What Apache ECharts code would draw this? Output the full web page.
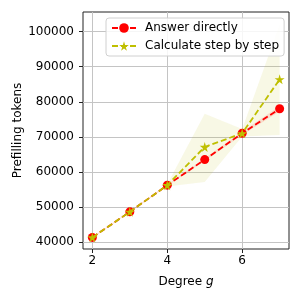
<!DOCTYPE html>
<html><head><meta charset="utf-8">
<script src="https://cdn.jsdelivr.net/npm/echarts@6/dist/echarts.min.js"></script>
<style>html,body{margin:0;padding:0;background:#fff}#c{width:302px;height:302px}</style>
</head><body><div id="c"></div>
<script>
const degrees = [2, 3, 4, 5, 6, 7];
const answerDirect = [41300, 48600, 56200, 63500, 71000, 78000];
const answerLow = [41150, 48450, 56000, 63100, 70500, 77200];
const answerHigh = [41450, 48750, 56400, 63900, 71500, 78800];
const stepByStep = [41300, 48600, 56200, 67100, 71000, 86400];
const stepLow = [41150, 48450, 55800, 57100, 70100, 70500];
const stepHigh = [41450, 48750, 56500, 76600, 72200, 102000];
const xTicks = [2, 4, 6];
const yTicks = [40000, 50000, 60000, 70000, 80000, 90000, 100000];

const STAR = 'path://M50,0 L61,35 L98,35 L68,57 L79,91 L50,70 L21,91 L32,57 L2,35 L39,35 Z';
const pairs = a => degrees.map((d, i) => [d, a[i]]);
const band = (lo, hi) => degrees.map((d, i) => [d, lo[i], hi[i]]);
const font = 'DejaVu Sans';

function bandRenderer(color) {
  return function (params, api) {
    if (params.dataIndex !== 0) return null;
    const top = [], bottom = [];
    for (let i = 0; i < degrees.length; i++) {
      top.push(api.coord([api.value(0, i), api.value(2, i)]));
      bottom.push(api.coord([api.value(0, i), api.value(1, i)]));
    }
    return {
      type: 'polygon',
      shape: { points: top.concat(bottom.reverse()) },
      style: { fill: color, stroke: null },
      clipPath: { type: 'rect', shape: { x: params.coordSys.x, y: params.coordSys.y, width: params.coordSys.width, height: params.coordSys.height } }
    };
  };
}

const chart = echarts.init(document.getElementById('c'));
chart.setOption({
  animation: false,
  textStyle: { fontFamily: font },
  grid: { left: 83, right: 13, top: 12, bottom: 53, show: true, borderColor: '#222', borderWidth: 1, containLabel: false, outerBoundsMode: 'none' },
  legend: {
    orient: 'vertical', left: 106, top: 18,
    padding: [4, 5, 4, 5], itemGap: 6, itemWidth: 24, itemHeight: 12,
    backgroundColor: 'rgba(255,255,255,0.85)', borderColor: '#d0d0d0', borderWidth: 1, borderRadius: 3,
    textStyle: { fontFamily: font, fontSize: 12, color: '#000', padding: [0, 0, 0, 4] },
    data: ['Answer directly', 'Calculate step by step']
  },
  xAxis: {
    type: 'value', min: 1.75, max: 7.25,
    name: '{a|Degree }{b|g}', nameLocation: 'middle', nameGap: 27, nameMoveOverlap: false,
    nameTextStyle: { rich: { a: { fontFamily: font, fontSize: 12, color: '#000' }, b: { fontFamily: font, fontSize: 12, color: '#000', fontStyle: 'italic' } } },
    axisLine: { show: false },
    axisTick: { show: true, length: 4, inside: false, customValues: xTicks, lineStyle: { color: '#222' } },
    axisLabel: { customValues: xTicks, margin: 6, fontSize: 12, color: '#000', fontFamily: font },
    splitLine: { show: true, lineStyle: { color: '#c4c4c4', width: 1 } }
  },
  yAxis: {
    type: 'value', min: 38000, max: 105600,
    name: 'Prefilling tokens', nameLocation: 'middle', nameGap: 59, nameMoveOverlap: false,
    nameTextStyle: { fontFamily: font, fontSize: 12, color: '#000' },
    axisLine: { show: false },
    axisTick: { show: true, length: 4, customValues: yTicks, lineStyle: { color: '#222' } },
    axisLabel: { customValues: yTicks, margin: 9, fontSize: 12, color: '#000', fontFamily: font, formatter: v => String(v) },
    splitLine: { show: true, lineStyle: { color: '#c4c4c4', width: 1 } }
  },
  series: [
    { type: 'custom', data: band(answerLow, answerHigh), renderItem: bandRenderer('rgba(255,0,0,0.12)'), silent: true, z: 1, encode: { x: 0, y: [1, 2] } },
    { type: 'custom', data: band(stepLow, stepHigh), renderItem: bandRenderer('rgba(191,191,0,0.1)'), silent: true, z: 1, encode: { x: 0, y: [1, 2] } },
    { name: 'Answer directly', type: 'line', data: pairs(answerDirect), symbol: 'circle', symbolSize: 9,
      itemStyle: { color: '#ff0000' }, lineStyle: { color: '#ff0000', width: 1.8, type: [6, 3] }, z: 3 },
    { name: 'Calculate step by step', type: 'line', data: pairs(stepByStep), symbol: STAR, symbolSize: 10,
      itemStyle: { color: '#bfbf00' }, lineStyle: { color: '#bfbf00', width: 1.8, type: [6, 3] }, z: 4 }
  ]
});
</script></body></html>
